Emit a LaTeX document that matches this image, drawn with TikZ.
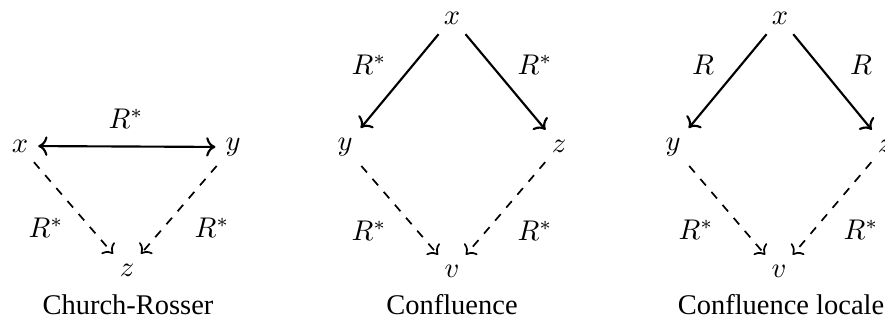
\documentclass[tikz,border=0pt]{standalone}
\usepackage{amsmath,amssymb}
\usepackage{fontspec}
\setmainfont{Liberation Serif}
\usepackage{tikz}
\usetikzlibrary{arrows.meta,calc,positioning}

\begin{document}
\begin{tikzpicture}[x=0.351pt,y=-0.351pt,font=\normalsize,
    pt/.style={inner sep=0.333em},
    lbl/.style={inner sep=0pt},
    caption/.style={anchor=base,inner sep=0pt},
    solidarr/.style={->,line width=0.75pt},
    dasharr/.style={->,dashed,line width=0.6pt}]
  \useasboundingbox (0,0) rectangle (885,320);
  % Church-Rosser
  \node[pt] (x1) at (20,146) {$x$};
  \node[pt] (y1) at (233,147) {$y$};
  \node[pt] (z1) at (127,270) {$z$};
  \draw[solidarr,<->] (x1) -- (y1);
  \draw[dasharr] (x1) -- (z1);
  \draw[dasharr] (y1) -- (z1);
  \node[lbl] (l1a) at (126,119) {$R^*$};
  \node[lbl] (l1b) at (46,228) {$R^*$};
  \node[lbl] (l1c) at (212,228) {$R^*$};
  \node[caption] (c1) at (128,314) {Church-Rosser};
  % Confluence
  \node[pt] (x2) at (452,18) {$x$};
  \node[pt] (y2) at (345,147) {$y$};
  \node[pt] (z2) at (559,146) {$z$};
  \node[pt] (v2) at (452,271) {$v$};
  \draw[solidarr] (x2) -- (y2);
  \draw[solidarr] (x2) -- (z2);
  \draw[dasharr] (y2) -- (v2);
  \draw[dasharr] (z2) -- (v2);
  \node[lbl] (l2a) at (369,65) {$R^*$};
  \node[lbl] (l2b) at (535,65) {$R^*$};
  \node[lbl] (l2c) at (369,231) {$R^*$};
  \node[lbl] (l2d) at (535,231) {$R^*$};
  \node[caption] (c2) at (452,314) {Confluence};
  % Confluence locale
  \node[pt] (x3) at (780,18) {$x$};
  \node[pt] (y3) at (673,147) {$y$};
  \node[pt] (z3) at (885,146) {$z$};
  \node[pt] (v3) at (779,271) {$v$};
  \draw[solidarr] (x3) -- (y3);
  \draw[solidarr] (x3) -- (z3);
  \draw[dasharr] (y3) -- (v3);
  \draw[dasharr] (z3) -- (v3);
  \node[lbl] (l3a) at (703,65) {$R$};
  \node[lbl] (l3b) at (861,65) {$R$};
  \node[lbl] (l3c) at (696,230) {$R^*$};
  \node[lbl] (l3d) at (861,230) {$R^*$};
  \node[caption] (c3) at (781,314) {Confluence locale};
\end{tikzpicture}
\end{document}
